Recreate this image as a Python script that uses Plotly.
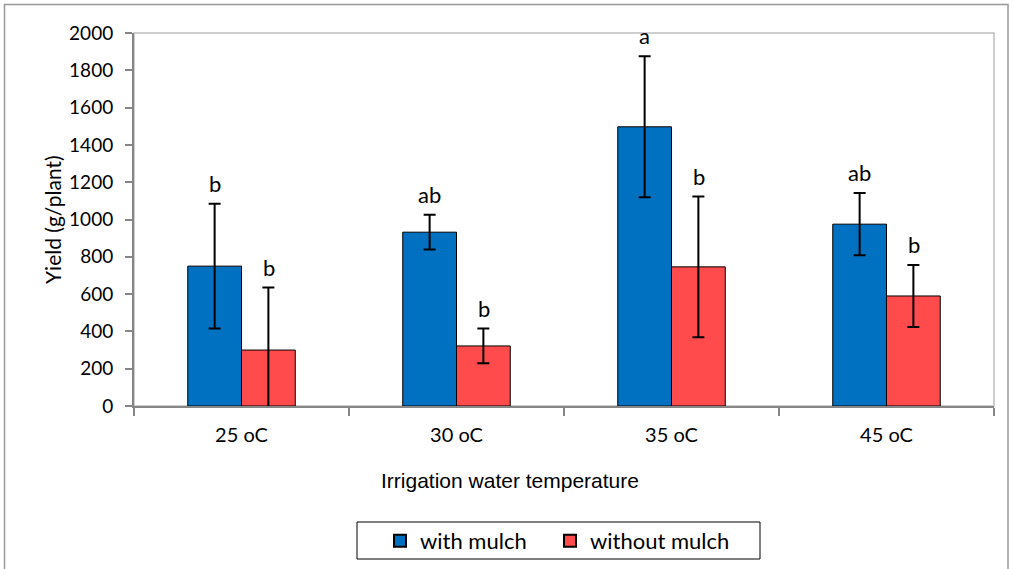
import plotly.graph_objects as go

categories = ["25 oC", "30 oC", "35 oC", "45 oC"]
with_mulch = [750, 932, 1497, 975]
with_mulch_err = [335, 93, 378, 167]
without_mulch = [300, 322, 746, 590]
without_mulch_err = [335, 93, 377, 166]
with_letters = ["b", "ab", "a", "ab"]
without_letters = ["b", "b", "b", "b"]

BLUE = "#0070C0"
RED = "#FF4B4B"
FONT = "Lato"

W, H = 1012, 569
L, R, T, B = 134, 18, 33, 163
pw, ph = W - L - R, H - T - B

def px_x(x):
    return (x - L) / pw

def px_y(y):
    return (H - B - y) / ph

fig = go.Figure()
fig.add_trace(go.Bar(
    name="with mulch", x=categories, y=with_mulch, legend="legend",
    marker=dict(color=BLUE, line=dict(color="#000000", width=1)),
    error_y=dict(type="data", array=with_mulch_err, color="#000000", thickness=2, width=6),
))
fig.add_trace(go.Bar(
    name="without mulch", x=categories, y=without_mulch, legend="legend2",
    marker=dict(color=RED, line=dict(color="#000000", width=1)),
    error_y=dict(type="data", array=without_mulch_err, color="#000000", thickness=2, width=6),
))

for i, c in enumerate(categories):
    fig.add_annotation(x=c, y=with_mulch[i] + with_mulch_err[i], text=with_letters[i],
                       showarrow=False, xshift=-27, yshift=5, yanchor="bottom",
                       font=dict(size=22, color="#000000", family=FONT))
    fig.add_annotation(x=c, y=without_mulch[i] + without_mulch_err[i], text=without_letters[i],
                       showarrow=False, xshift=27, yshift=5, yanchor="bottom",
                       font=dict(size=22, color="#000000", family=FONT))

fig.add_annotation(x=px_x(509.5), y=px_y(481), xref="paper", yref="paper",
                   text="Irrigation water temperature", showarrow=False,
                   xanchor="center", yanchor="middle",
                   font=dict(size=21, color="#000000", family="Liberation Sans"))
fig.add_annotation(x=px_x(52), y=px_y(220), xref="paper", yref="paper",
                   text="Yield (g/plant)", showarrow=False, textangle=-90,
                   xanchor="center", yanchor="middle",
                   font=dict(size=21, color="#000000", family=FONT))

# plot-area border (top/right), legend frame and outer chart frame
fig.add_shape(type="rect", xref="paper", yref="paper", x0=0, x1=1, y0=0, y1=1,
              line=dict(color="#BFBFBF", width=1.5), layer="below")
fig.add_shape(type="rect", xref="paper", yref="paper",
              x0=px_x(4.5), x1=px_x(1008), y0=px_y(580), y1=px_y(4.5),
              line=dict(color="#999999", width=1.5), layer="below")
fig.add_shape(type="rect", xref="paper", yref="paper",
              x0=px_x(357), x1=px_x(760), y0=px_y(559), y1=px_y(522),
              line=dict(color="#000000", width=1), fillcolor="white", layer="below")

leg_common = dict(orientation="h", yanchor="middle", xanchor="left",
                  borderwidth=0, bgcolor="rgba(0,0,0,0)",
                  font=dict(size=22, family=FONT, color="#000000"), itemsizing="constant")

fig.update_layout(
    width=W, height=H, autosize=False,
    margin=dict(l=L, r=R, t=T, b=B, autoexpand=False),
    paper_bgcolor="white", plot_bgcolor="white",
    barmode="group", bargap=0.5, bargroupgap=0,
    font=dict(family=FONT, size=20, color="#000000"),
    showlegend=True,
    legend=dict(x=px_x(380), y=px_y(541), **leg_common),
    legend2=dict(x=px_x(550), y=px_y(541), **leg_common),
    xaxis=dict(showline=True, linecolor="#868686", linewidth=2, ticks="outside",
               tickson="boundaries", ticklen=8, tickcolor="#868686", tickwidth=2,
               tickfont=dict(size=20), showgrid=False, ticklabelstandoff=10),
    yaxis=dict(range=[0, 2000], dtick=200, showline=True, linecolor="#868686", linewidth=2,
               ticks="outside", ticklen=7, tickcolor="#868686", tickwidth=2,
               tickfont=dict(size=19), showgrid=False, zeroline=False,
               ticklabelstandoff=8),
)

fig.write_html("out.html", config={"displayModeBar": False, "responsive": False},
               post_script="document.body.style.margin='0';document.body.style.overflow='hidden';")
